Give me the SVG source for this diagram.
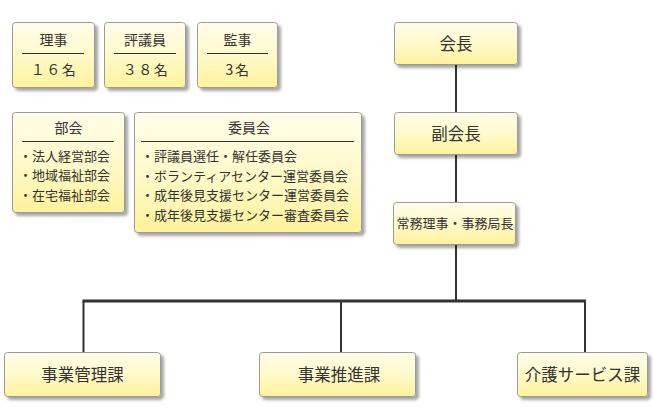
<svg xmlns="http://www.w3.org/2000/svg" width="654" height="414" viewBox="0 0 654 414">
<defs>
<linearGradient id="g" x1="0" y1="0" x2="0" y2="1">
<stop offset="0" stop-color="#fffdea"/>
<stop offset="0.55" stop-color="#fff9c6"/>
<stop offset="1" stop-color="#fff29a"/>
</linearGradient>
<filter id="sh" x="-10%" y="-10%" width="125%" height="135%">
<feDropShadow dx="3" dy="3" stdDeviation="1.6" flood-color="#000" flood-opacity="0.35"/>
</filter>
<style>
.box{fill:url(#g);stroke:#9a9a9a;stroke-width:1;filter:url(#sh)}
text{font-family:"Noto Sans CJK JP","Noto Sans",sans-serif;fill:#333}
.t{font-size:14px;text-anchor:middle}
.n{font-size:14px;text-anchor:middle;letter-spacing:1.5px}
.s{font-size:13px}
.c{text-anchor:middle}
.big{font-size:16.5px;text-anchor:middle}
.sep{stroke:#333;stroke-width:1}
.ln{stroke:#333;stroke-width:2;fill:none}
.hl{stroke:#333;stroke-width:3;fill:none}
</style>
</defs>
<g id="connectors">
<line class="ln" x1="456" y1="65" x2="456" y2="112"/>
<line class="ln" x1="456" y1="155" x2="456" y2="202"/>
<line class="ln" x1="456" y1="245" x2="456" y2="301"/>
<line class="hl" x1="82.5" y1="301" x2="586" y2="301"/>
<line class="ln" x1="83.5" y1="301" x2="83.5" y2="352"/>
<line class="ln" x1="341" y1="301" x2="341" y2="352"/>
<line class="ln" x1="585" y1="301" x2="585" y2="352"/>
</g>
<g id="riji">
<rect class="box" x="12.5" y="22.5" width="82" height="65" rx="3"/>
<text class="t" x="53.5" y="45">理事</text>
<line class="sep" x1="22" y1="53.5" x2="84" y2="53.5"/>
<text class="n" x="54" y="75">１６名</text>
</g>
<g id="hyogiin">
<rect class="box" x="104.5" y="22.5" width="81" height="65" rx="3"/>
<text class="t" x="145" y="45">評議員</text>
<line class="sep" x1="114" y1="53.5" x2="176" y2="53.5"/>
<text class="n" x="146" y="75">３８名</text>
</g>
<g id="kanji">
<rect class="box" x="197.5" y="22.5" width="80" height="65" rx="3"/>
<text class="t" x="237.5" y="45">監事</text>
<line class="sep" x1="207" y1="53.5" x2="268" y2="53.5"/>
<text class="n" x="238" y="75">3名</text>
</g>
<g id="bukai">
<rect class="box" x="12.5" y="112.5" width="112" height="100" rx="3"/>
<text class="t" x="68.5" y="133">部会</text>
<line class="sep" x1="22" y1="141.5" x2="114" y2="141.5"/>
<text class="s" x="19" y="160.5">・法人経営部会</text>
<text class="s" x="19" y="180">・地域福祉部会</text>
<text class="s" x="19" y="199.5">・在宅福祉部会</text>
</g>
<g id="iinkai">
<rect class="box" x="134.5" y="112.5" width="227" height="120" rx="3"/>
<text class="t" x="249" y="133">委員会</text>
<line class="sep" x1="141" y1="141.5" x2="354" y2="141.5"/>
<text class="s" x="141" y="160.5">・評議員選任・解任委員会</text>
<text class="s" x="141" y="180.5">・ボランティアセンター運営委員会</text>
<text class="s" x="141" y="199.5">・成年後見支援センター運営委員会</text>
<text class="s" x="141" y="219.5">・成年後見支援センター審査委員会</text>
</g>
<g id="kaicho">
<rect class="box" x="394.5" y="22.5" width="123" height="42" rx="3"/>
<text class="big" x="456" y="49.5">会長</text>
</g>
<g id="fukukaicho">
<rect class="box" x="394.5" y="112.5" width="123" height="42" rx="3"/>
<text class="big" x="456" y="139.5">副会長</text>
</g>
<g id="jomu">
<rect class="box" x="393.5" y="202.5" width="122" height="42" rx="3"/>
<text class="c" x="455" y="228" font-size="13">常務理事・事務局長</text>
</g>
<g id="jigyokanri">
<rect class="box" x="4.5" y="352.5" width="156" height="44" rx="3"/>
<text class="big" x="82.5" y="380.5">事業管理課</text>
</g>
<g id="jigyosuishin">
<rect class="box" x="259.5" y="352.5" width="156" height="44" rx="3"/>
<text class="big" x="339" y="380.5">事業推進課</text>
</g>
<g id="kaigo">
<rect class="box" x="517.5" y="352.5" width="130" height="44" rx="3"/>
<text class="big" x="582.5" y="380.5">介護サービス課</text>
</g>
</svg>
